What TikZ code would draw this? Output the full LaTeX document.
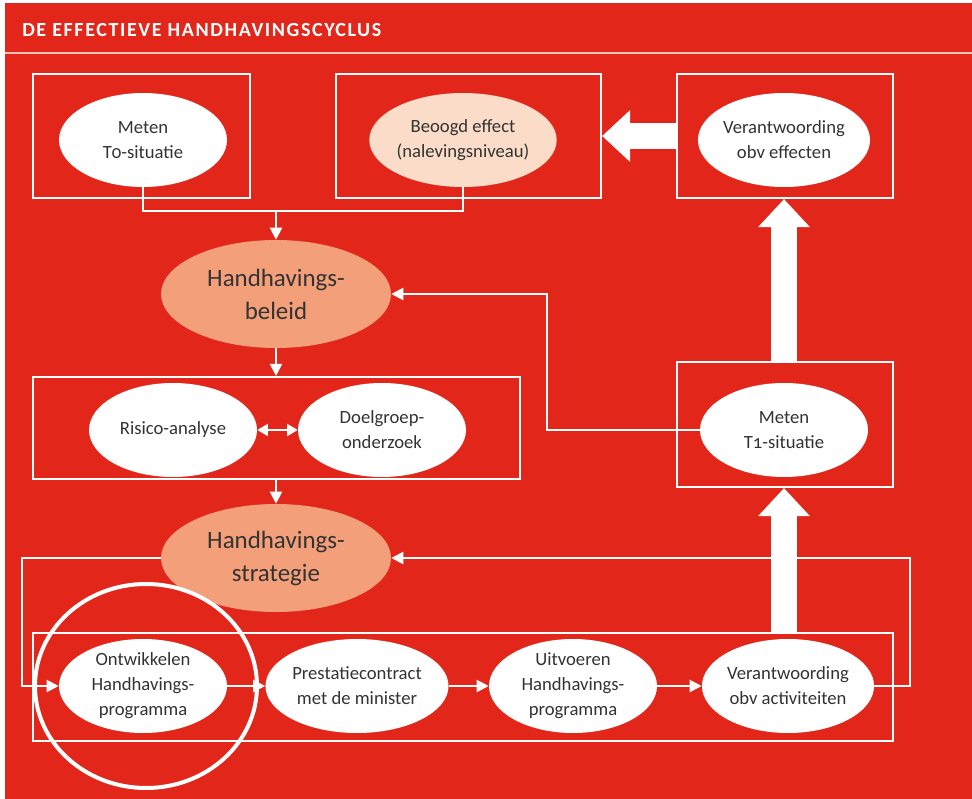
\documentclass[tikz,border=0pt]{standalone}
\usepackage{fontspec}
\setmainfont{Carlito}[Numbers=OldStyle]
\usetikzlibrary{arrows.meta,shapes.geometric}
\definecolor{cyclusrood}{RGB}{226,38,26}
\definecolor{beleidoranje}{RGB}{242,159,122}
\definecolor{effectroze}{RGB}{250,220,200}
\definecolor{tekstgrijs}{RGB}{51,51,51}
\definecolor{kopregel}{RGB}{244,190,180}

\begin{document}
\begin{tikzpicture}[x=0.75pt,y=-0.75pt,
    kader/.style={draw=white,line width=1.6pt,inner sep=0pt},
    stap/.style={ellipse,fill=white,text=tekstgrijs,inner sep=0pt,
      minimum width=126pt,minimum height=70.5pt,align=center,
      font=\fontsize{14}{18.75}\selectfont},
    kern/.style={ellipse,fill=beleidoranje,text=tekstgrijs,inner sep=0pt,
      minimum width=172.5pt,minimum height=81pt,align=center,
      font=\fontsize{18.7}{24.75}\selectfont},
    lijn/.style={draw=white,line width=1.6pt},
    pijl/.style={lijn,-{Triangle[length=9pt,width=9pt]}},
    dubbelpijl/.style={lijn,{Triangle[length=8pt,width=9pt]}-{Triangle[length=8pt,width=9pt]}},
    dikkepijl/.style={draw=white,line width=19pt,-{Triangle[length=21pt,width=37.5pt]}}]
      \useasboundingbox (0,0) rectangle (972,799);
      \fill[cyclusrood] (5,3) rectangle (972,799);
      \draw[kopregel,line width=1.2pt] (5,53) -- (972,53);
      \node[anchor=base west,text=white,inner sep=0pt,
        font=\bfseries\fontsize{15}{17}\selectfont\addfontfeatures{LetterSpace=8}] (titel) at (22,37)
        {DE EFFECTIEVE HANDHAVINGSCYCLUS};

      \node[kader,minimum width=162.75pt,minimum height=93pt] (vak0) at (141.5,136) {};
      \node[kader,minimum width=198.75pt,minimum height=93pt] (vakdoel) at (468.5,136) {};
      \node[kader,minimum width=162pt,minimum height=93pt] (vakeffect) at (785,136) {};
      \node[kader,minimum width=365.25pt,minimum height=76.5pt] (vakanalyse) at (276.5,428) {};
      \node[kader,minimum width=162pt,minimum height=93.75pt] (vak1) at (785,424.5) {};
      \node[kader,minimum width=645pt,minimum height=81pt] (vakuitvoering) at (463,687) {};

      \node[stap] (meten0) at (143,140) {Meten\\T0-situatie};
      \node[stap,fill=effectroze] (beoogd) at (463,140) {Beoogd effect\\(nalevingsniveau)};
      \node[stap] (vereffect) at (784,140) {Verantwoording\\obv effecten};
      \node[kern] (beleid) at (276,294) {Handhavings-\\beleid};
      \node[stap] (risico) at (173,430) {Risico-analyse};
      \node[stap] (doelgroep) at (382,430) {Doelgroep-\\onderzoek};
      \node[stap] (meten1) at (784,430) {Meten\\T1-situatie};
      \node[kern] (strategie) at (276,558) {Handhavings-\\strategie};
      \node[stap] (ontwikkelen) at (143,686) {Ontwikkelen\\Handhavings-\\programma};
      \node[stap] (contract) at (357,686) {Prestatiecontract\\met de minister};
      \node[stap] (uitvoeren) at (573,686) {Uitvoeren\\Handhavings-\\programma};
      \node[stap] (veractiviteit) at (788,686) {Verantwoording\\obv activiteiten};

      \coordinate (samen) at (276,211);
      \coordinate (links) at (22,558);
      \coordinate (rechts) at (910,558);
      \coordinate (terug) at (547,430);

      \draw[lijn] (meten0.south) |- (samen) -| (beoogd.south);
      \draw[pijl] (samen) -- (beleid.north);
      \draw[pijl] (beleid.south) -- (beleid.south |- vakanalyse.north);
      \draw[dubbelpijl] (risico.east) -- (doelgroep.west);
      \draw[pijl] (strategie.north |- vakanalyse.south) -- (strategie.north);
      \draw[pijl] (meten1.west) -- (terug) |- (beleid.east);
      \draw[pijl] (strategie.west) -- (links) |- (ontwikkelen.west);
      \draw[pijl] (ontwikkelen.east) -- (contract.west);
      \draw[pijl] (contract.east) -- (uitvoeren.west);
      \draw[pijl] (uitvoeren.east) -- (veractiviteit.west);
      \draw[pijl] (veractiviteit.east) -| (rechts) -- (strategie.east);

      \draw[dikkepijl] (meten1 |- vakuitvoering.north) -- (meten1 |- vak1.south);
      \draw[dikkepijl] (vereffect |- vak1.north) -- (vereffect |- vakeffect.south);
      \draw[dikkepijl] (vakeffect.west) -- (vakdoel.east);

      \node[ellipse,draw=white,line width=3pt,minimum width=166.5pt,
        minimum height=153pt] (markering) at (146,686) {};
    \end{tikzpicture}
\end{document}
